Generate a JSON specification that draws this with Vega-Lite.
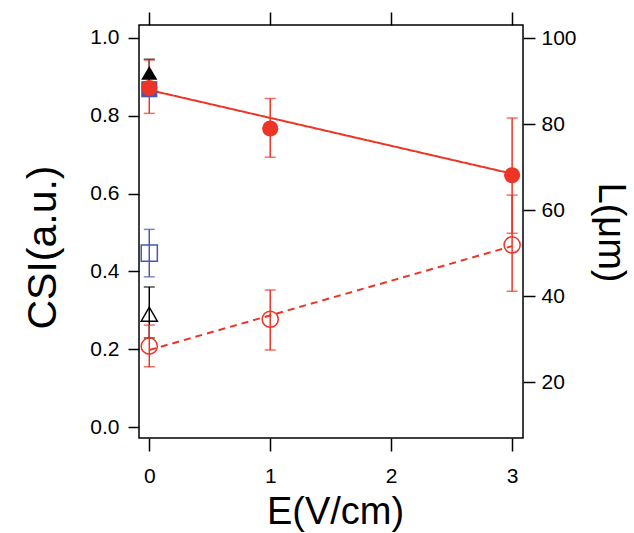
{
  "$schema": "https://vega.github.io/schema/vega-lite/v6.json",
  "autosize": "none",
  "width": 384,
  "height": 413,
  "padding": {"left": 139, "top": 25, "right": 111, "bottom": 95},
  "background": "white",
  "config": {
    "view": {"stroke": "black", "strokeWidth": 1.5},
    "axis": {
      "grid": false,
      "domain": false,
      "tickColor": "black",
      "tickWidth": 1.5,
      "labelColor": "black",
      "titleColor": "black",
      "labelFont": "Liberation Sans",
      "titleFont": "Liberation Sans",
      "labelFontSize": 21,
      "titleFontWeight": "normal"
    }
  },
  "datasets": {
    "pts": [
      {"series": "bf", "E": 0, "csi": 0.868, "lo": 0.850, "hi": 0.886},
      {"series": "kf", "E": 0, "csi": 0.910, "lo": 0.879, "hi": 0.945},
      {"series": "rf", "E": 0, "csi": 0.871, "lo": 0.806, "hi": 0.943},
      {"series": "rf", "E": 1, "csi": 0.767, "lo": 0.693, "hi": 0.844},
      {"series": "rf", "E": 3, "csi": 0.647, "lo": 0.498, "hi": 0.794},
      {"series": "bo", "E": 0, "csi": 0.447, "lo": 0.386, "hi": 0.508},
      {"series": "ko", "E": 0, "csi": 0.290, "lo": 0.229, "hi": 0.360},
      {"series": "ro", "E": 0, "csi": 0.208, "lo": 0.155, "hi": 0.262},
      {"series": "ro", "E": 1, "csi": 0.277, "lo": 0.198, "hi": 0.352},
      {"series": "ro", "E": 3, "csi": 0.468, "lo": 0.349, "hi": 0.596}
    ],
    "fits": [
      {"series": "rf", "E": 0, "csi": 0.866},
      {"series": "rf", "E": 3, "csi": 0.651},
      {"series": "ro", "E": 0, "csi": 0.198},
      {"series": "ro", "E": 3, "csi": 0.465}
    ],
    "right": [{"E": 0, "L": 50}]
  },
  "layer": [
    {
      "layer": [
        {
          "data": {"name": "fits"},
          "mark": {"type": "line", "strokeWidth": 2},
          "encoding": {
            "x": {"field": "E", "type": "quantitative"},
            "y": {"field": "csi", "type": "quantitative"},
            "color": {"field": "series", "type": "nominal", "legend": null},
            "strokeDash": {"field": "series", "type": "nominal", "legend": null,
              "scale": {"domain": ["rf", "ro"], "range": [[1, 0], [7, 5]]}}
          }
        },
        {
          "data": {"name": "pts"},
          "mark": {"type": "rule", "strokeWidth": 1.5},
          "encoding": {
            "x": {"field": "E", "type": "quantitative"},
            "y": {"field": "lo", "type": "quantitative"},
            "y2": {"field": "hi"},
            "color": {"field": "series", "type": "nominal", "legend": null}
          }
        },
        {
          "data": {"name": "pts"},
          "mark": {"type": "tick", "orient": "horizontal", "size": 11, "thickness": 1.5},
          "encoding": {
            "x": {"field": "E", "type": "quantitative"},
            "y": {"field": "lo", "type": "quantitative"},
            "color": {"field": "series", "type": "nominal", "legend": null}
          }
        },
        {
          "data": {"name": "pts"},
          "mark": {"type": "tick", "orient": "horizontal", "size": 11, "thickness": 1.5},
          "encoding": {
            "x": {"field": "E", "type": "quantitative"},
            "y": {"field": "hi", "type": "quantitative"},
            "color": {"field": "series", "type": "nominal", "legend": null}
          }
        },
        {
          "data": {"name": "pts"},
          "transform": [{"filter": "indexof(['bf','kf','rf'], datum.series) >= 0"}],
          "mark": {"type": "point", "filled": true, "opacity": 1},
          "encoding": {
            "x": {"field": "E", "type": "quantitative"},
            "y": {"field": "csi", "type": "quantitative"},
            "color": {"field": "series", "type": "nominal", "legend": null},
            "shape": {"field": "series", "type": "nominal", "legend": null,
              "scale": {"domain": ["rf", "ro", "bf", "bo", "kf", "ko"],
                "range": ["circle", "circle", "square", "square", "triangle-up", "triangle-up"]}},
            "size": {"field": "series", "type": "nominal", "legend": null,
              "scale": {"domain": ["rf", "ro", "bf", "bo", "kf", "ko"],
                "range": [260, 260, 280, 280, 270, 270]}}
          }
        },
        {
          "data": {"name": "pts"},
          "transform": [{"filter": "indexof(['bo','ko','ro'], datum.series) >= 0"}],
          "mark": {"type": "point", "filled": false, "strokeWidth": 1.5, "opacity": 1},
          "encoding": {
            "x": {"field": "E", "type": "quantitative"},
            "y": {"field": "csi", "type": "quantitative"},
            "color": {"field": "series", "type": "nominal", "legend": null},
            "shape": {"field": "series", "type": "nominal", "legend": null},
            "size": {"field": "series", "type": "nominal", "legend": null}
          }
        }
      ],
      "encoding": {
        "x": {
          "field": "E", "type": "quantitative",
          "scale": {"domain": [-0.085, 3.09], "nice": false, "zero": false},
          "axis": {"orient": "bottom", "values": [0, 1, 2, 3], "format": "d", "tickSize": 13,
            "labelPadding": 14, "title": "E(V/cm)", "titleFontSize": 38,
            "titleX": 196, "titleY": 85, "titleBaseline": "alphabetic", "titleAnchor": null, "titleAlign": "center"}
        },
        "y": {
          "field": "csi", "type": "quantitative",
          "scale": {"domain": [-0.028, 1.033], "nice": false, "zero": false},
          "axis": {"orient": "left", "values": [0, 0.2, 0.4, 0.6, 0.8, 1.0], "format": ".1f", "tickSize": 11,
            "labelPadding": 9, "title": "CSI(a.u.)", "titleFontSize": 41,
            "titleAngle": -90, "titleX": -96, "titleY": 222, "titleBaseline": "middle", "titleAlign": "center", "titleAnchor": null}
        },
        "color": {"field": "series", "type": "nominal", "legend": null,
          "scale": {"domain": ["rf", "ro", "bf", "bo", "kf", "ko"],
            "range": ["#EC3526", "#EC3526", "#4B58A8", "#4B58A8", "#000000", "#000000"]}}
      }
    },
    {
      "data": {"name": "right"},
      "mark": {"type": "point", "opacity": 0},
      "encoding": {
        "x": {
          "field": "E", "type": "quantitative",
          "axis": {"orient": "top", "values": [0, 1, 2, 3], "labels": false, "tickSize": 13, "title": null}
        },
        "y": {
          "field": "L", "type": "quantitative",
          "scale": {"domain": [7.0, 103.1], "nice": false, "zero": false},
          "axis": {"orient": "right", "values": [20, 40, 60, 80, 100], "tickSize": 12, "labelPadding": 6,
            "title": "L(μm)", "titleFontSize": 38, "titleAngle": 90, "titleX": 86, "titleY": 207,
            "titleBaseline": "middle", "titleAlign": "center", "titleAnchor": null}
        }
      }
    }
  ],
  "resolve": {"scale": {"y": "independent"}, "axis": {"x": "independent", "y": "independent"}}
}
